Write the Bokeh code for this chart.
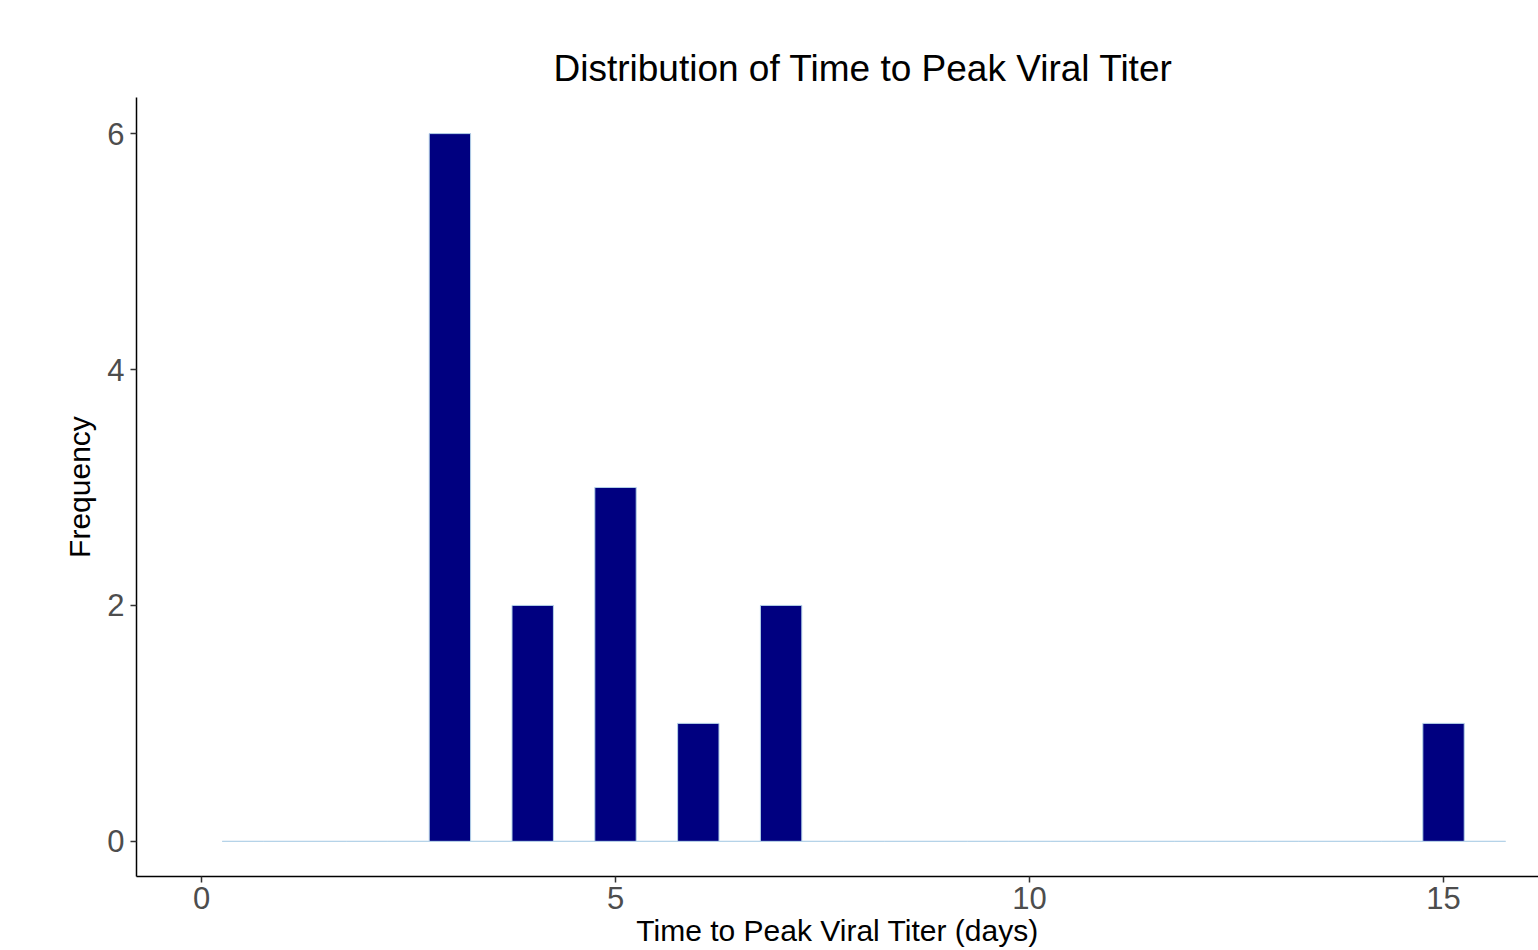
from bokeh.plotting import figure
from bokeh.models import Range1d, FixedTicker, ColumnDataSource
from bokeh.embed import file_html
from bokeh.resources import INLINE

# Data (bin width 0.5 day, bins centred on multiples of 0.5)
days = [3, 4, 5, 6, 7, 15]
freq = [6, 2, 3, 1, 2, 1]
bin_width = 0.5
bin_first = 0.5
bin_last = 15.5
x_ticks = [0, 5, 10, 15]
y_ticks = [0, 2, 4, 6]

title_text = "Distribution of Time to Peak Viral Titer"
x_label = "Time to Peak Viral Titer (days)"
y_label = "Frequency"

# Build histogram table (empty bins have zero counts)
n_bins = int(round((bin_last - bin_first) / bin_width)) + 1
centers = [bin_first + i * bin_width for i in range(n_bins)]
counts_map = dict(zip(days, freq))
counts = [counts_map.get(c, 0) for c in centers]
src = ColumnDataSource(dict(
    left=[c - bin_width / 2 for c in centers],
    right=[c + bin_width / 2 for c in centers],
    top=counts,
    bottom=[0] * n_bins,
))

FONT = "Liberation Sans"

p = figure(width=1538, height=950, output_backend="svg", toolbar_location=None,
           x_range=Range1d(-0.785, 16.147), y_range=Range1d(-0.298, 6.306),
           min_border_left=136, min_border_right=0, min_border_top=97,
           min_border_bottom=74)

p.quad(left="left", right="right", top="top", bottom="bottom", source=src,
       fill_color="#000080", line_color="#B4D2E8", line_width=1)

# Title
p.title.text = title_text
p.title.text_font = FONT
p.title.text_font_size = "37px"
p.title.text_font_style = "normal"
p.title.text_color = "#000000"
p.title.align = "left"
p.title.offset = 417
p.title.standoff = 18

# Axes
for ax in (p.xaxis[0], p.yaxis[0]):
    ax.axis_line_color = "#000000"
    ax.axis_line_width = 1.5
    ax.major_tick_line_color = "#333333"
    ax.major_tick_line_width = 1.5
    ax.major_tick_out = 6
    ax.major_tick_in = 0
    ax.minor_tick_line_color = None
    ax.major_label_text_font = FONT
    ax.major_label_text_font_size = "31px"
    ax.major_label_text_color = "#4D4D4D"
    ax.axis_label_text_font = FONT
    ax.axis_label_text_font_style = "normal"
    ax.axis_label_text_color = "#000000"
    ax.axis_label_text_font_size = "30px"

p.xaxis.ticker = FixedTicker(ticks=x_ticks)
p.yaxis.ticker = FixedTicker(ticks=y_ticks)
p.xaxis.major_label_standoff = 4
p.yaxis.major_label_standoff = 6
p.yaxis.axis_label = y_label
p.yaxis.axis_label_standoff = 8
p.xaxis.axis_label = x_label
p.xaxis.axis_label_standoff = 2

p.xgrid.grid_line_color = None
p.ygrid.grid_line_color = None
p.outline_line_color = None
p.background_fill_color = "white"
p.border_fill_color = "white"

open("out.html", "w").write(file_html(p, INLINE))
